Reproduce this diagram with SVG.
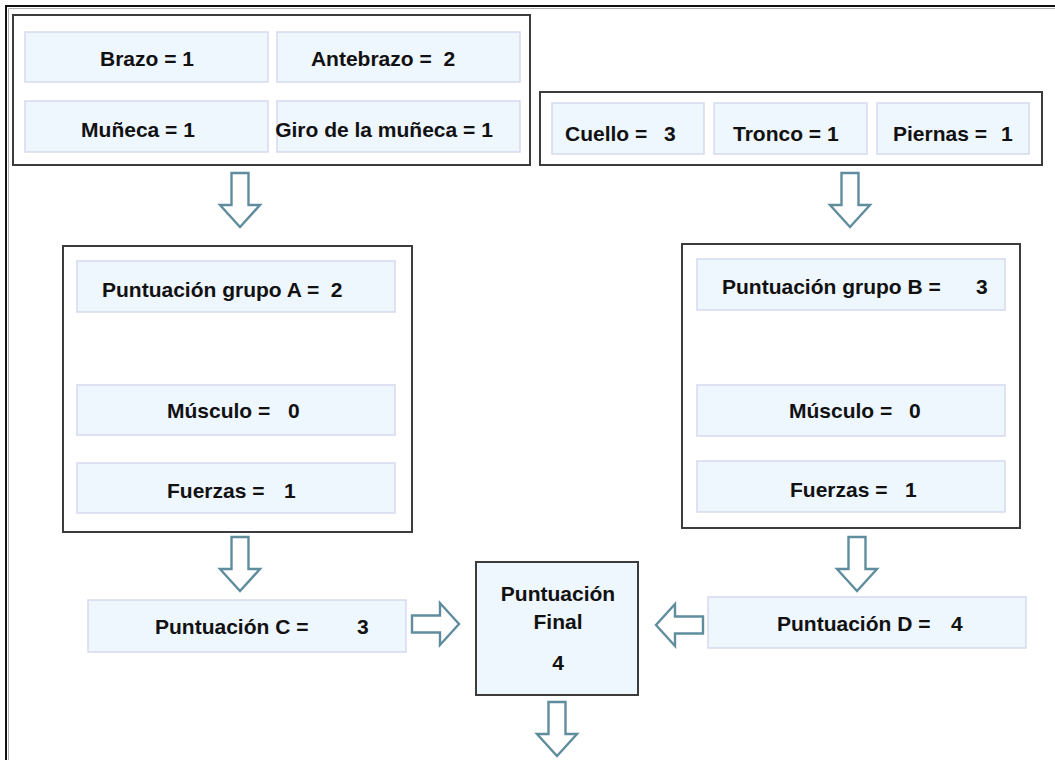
<svg xmlns="http://www.w3.org/2000/svg" width="1055" height="760" viewBox="0 0 1055 760">
<style>
.frame{fill:#fff;stroke:#3c3c3c;stroke-width:2}
.cell{fill:#eef6fe;stroke:#d5daee;stroke-width:1.5}
.final{fill:#eef6fe;stroke:#3c3c3c;stroke-width:2}
.t{font-family:"Liberation Sans",Arial,sans-serif;font-weight:bold;font-size:21px;fill:#111;white-space:pre}
.arrow{fill:#fff;stroke:#5f8d9e;stroke-width:2.4;stroke-linejoin:miter}
</style>
<defs>
<path id="adown" d="M-8.5,0 H8.5 V32 H20 L0,54 L-20,32 H-8.5 Z"/>
<path id="aright" d="M0,-8.5 H28 V-21 L47,0 L28,21 V8.5 H0 Z"/>
</defs>
<rect width="1055" height="760" fill="#fff"/>
<path d="M8.5,760 V8.5 H1055" fill="none" stroke="#b0b0b0" stroke-width="1"/>
<path d="M6,760 V6 H1055" fill="none" stroke="#111" stroke-width="2"/>

<g id="group1">
<rect class="frame" x="13" y="15" width="517" height="150"/>
<g id="brazo"><rect class="cell" x="25" y="32" width="243" height="50"/><text class="t" x="147" y="66" text-anchor="middle">Brazo = 1</text></g>
<g id="antebrazo"><rect class="cell" x="277" y="32" width="243" height="50"/><text class="t" x="383" y="66" text-anchor="middle">Antebrazo =  2</text></g>
<g id="muneca"><rect class="cell" x="25" y="101" width="243" height="51"/><text class="t" x="138" y="137" text-anchor="middle">Muñeca = 1</text></g>
<g id="giro"><rect class="cell" x="277" y="101" width="243" height="51"/><text class="t" x="384" y="137" text-anchor="middle">Giro de la muñeca = 1</text></g>
</g>

<g id="group2">
<rect class="frame" x="540" y="92" width="502" height="73"/>
<g id="cuello"><rect class="cell" x="552" y="103" width="152" height="51"/><text class="t" x="565" y="141">Cuello =</text><text class="t" x="664" y="141">3</text></g>
<g id="tronco"><rect class="cell" x="714" y="103" width="153" height="51"/><text class="t" x="733" y="141">Tronco = 1</text></g>
<g id="piernas"><rect class="cell" x="877" y="103" width="152" height="51"/><text class="t" x="893" y="141">Piernas =</text><text class="t" x="1001" y="141">1</text></g>
</g>

<g id="groupA">
<rect class="frame" x="63" y="246" width="349" height="286"/>
<g id="puntA"><rect class="cell" x="77" y="261" width="318" height="51"/><text class="t" x="102" y="297">Puntuación grupo A =  2</text></g>
<g id="musculoA"><rect class="cell" x="77" y="385" width="318" height="50"/><text class="t" x="167" y="418">Músculo =</text><text class="t" x="288" y="418">0</text></g>
<g id="fuerzasA"><rect class="cell" x="77" y="463" width="318" height="50"/><text class="t" x="167" y="498">Fuerzas =</text><text class="t" x="284" y="498">1</text></g>
</g>

<g id="groupB">
<rect class="frame" x="682" y="244" width="338" height="284"/>
<g id="puntB"><rect class="cell" x="697" y="259" width="308" height="51"/><text class="t" x="722" y="294">Puntuación grupo B =</text><text class="t" x="976" y="294">3</text></g>
<g id="musculoB"><rect class="cell" x="697" y="385" width="308" height="51"/><text class="t" x="789" y="418">Músculo =</text><text class="t" x="909" y="418">0</text></g>
<g id="fuerzasB"><rect class="cell" x="697" y="461" width="308" height="51"/><text class="t" x="790" y="497">Fuerzas =</text><text class="t" x="905" y="497">1</text></g>
</g>

<g id="puntC"><rect class="cell" x="88" y="600" width="318" height="52"/><text class="t" x="155" y="634">Puntuación C =</text><text class="t" x="357" y="634">3</text></g>
<g id="puntD"><rect class="cell" x="708" y="597" width="318" height="51"/><text class="t" x="777" y="631">Puntuación D =</text><text class="t" x="951" y="631">4</text></g>

<g id="final">
<rect class="final" x="476" y="562" width="162" height="133"/>
<text class="t" x="558" y="601" text-anchor="middle">Puntuación</text>
<text class="t" x="558" y="629" text-anchor="middle">Final</text>
<text class="t" x="558" y="670" text-anchor="middle">4</text>
</g>

<g id="connectors">
<use href="#adown" class="arrow" transform="translate(240,173)"/>
<use href="#adown" class="arrow" transform="translate(850,173)"/>
<use href="#adown" class="arrow" transform="translate(240,537)"/>
<use href="#adown" class="arrow" transform="translate(857,537)"/>
<use href="#adown" class="arrow" transform="translate(557,702)"/>
<use href="#aright" class="arrow" transform="translate(412,624)"/>
<use href="#aright" class="arrow" transform="translate(703,625) scale(-1,1)"/>
</g>
</svg>
